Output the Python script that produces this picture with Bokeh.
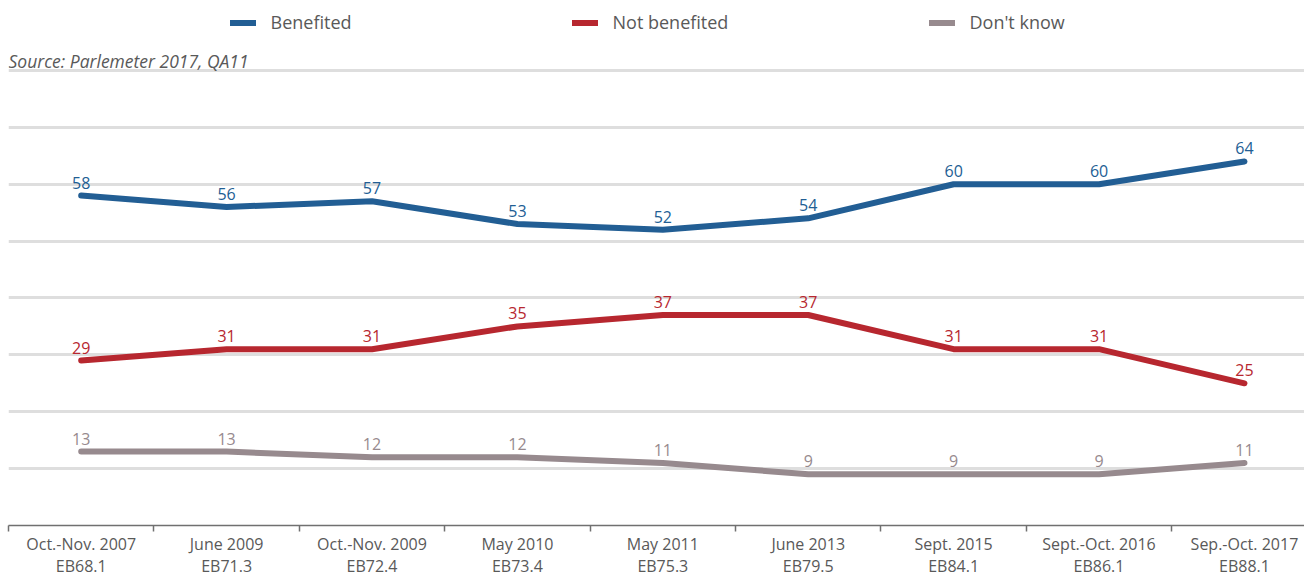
from bokeh.plotting import figure
from bokeh.models import (Range1d, FixedTicker, Grid, Legend, LegendItem, Label, ColumnDataSource)
from bokeh.embed import file_html
from bokeh.resources import INLINE
from bokeh.core.properties import value

# ---- data ----
periods = ["Oct.-Nov. 2007", "June 2009", "Oct.-Nov. 2009", "May 2010", "May 2011",
           "June 2013", "Sept. 2015", "Sept.-Oct. 2016", "Sep.-Oct. 2017"]
waves = ["EB68.1", "EB71.3", "EB72.4", "EB73.4", "EB75.3", "EB79.5", "EB84.1", "EB86.1", "EB88.1"]
benefited = [58, 56, 57, 53, 52, 54, 60, 60, 64]
not_benefited = [29, 31, 31, 35, 37, 37, 31, 31, 25]
dont_know = [13, 13, 12, 12, 11, 9, 9, 9, 11]
series_names = ["Benefited", "Not benefited", "Don't know"]
series_values = [benefited, not_benefited, dont_know]
grid_ticks = [10, 20, 30, 40, 50, 60, 70, 80]
source_text = "Source: Parlemeter 2017, QA11"

colors = ["#225e94", "#b7272f", "#978a8e"]
FONT = "Open Sans"
TXT = "#595959"

xs = list(range(len(periods)))

p = figure(width=1304, height=579, output_backend="svg", toolbar_location=None,
           x_range=Range1d(-0.5, 8.413), y_range=Range1d(0, 92.3),
           y_axis_location=None, min_border_left=8, min_border_right=0,
           min_border_top=0, min_border_bottom=52)
p.outline_line_color = None
p.background_fill_color = "white"
p.border_fill_color = "white"
p.xgrid.visible = False
p.ygrid.visible = False

g = Grid(dimension=1, ticker=FixedTicker(ticks=grid_ticks),
         grid_line_color="#dedede", grid_line_width=3)
p.add_layout(g)

ax = p.xaxis[0]
ax.ticker = FixedTicker(ticks=xs, minor_ticks=[i - 0.5 for i in range(len(periods))])
ax.major_label_overrides = {i: f"{periods[i]}\n{waves[i]}" for i in xs}
ax.major_tick_in = 0
ax.major_tick_out = 0
ax.minor_tick_in = 0
ax.minor_tick_out = 6
ax.minor_tick_line_color = "#707070"
ax.minor_tick_line_width = 1.5
ax.axis_line_color = "#707070"
ax.axis_line_width = 1.5
ax.major_label_standoff = 1
ax.major_label_text_font = FONT
ax.major_label_text_font_size = "16px"
ax.major_label_text_line_height = 1.0
ax.major_label_text_color = TXT

legend_x = [221.5, 563.5, 920.5]
for name, vals, col, lx in zip(series_names, series_values, colors, legend_x):
    src = ColumnDataSource(dict(x=xs, y=vals, t=[str(v) for v in vals]))
    r = p.line("x", "y", source=src, line_color=col, line_width=6,
               line_cap="round", line_join="round")
    p.text("x", "y", text="t", source=src, text_color=col, text_font=value(FONT),
           text_font_size="16px", text_align="center", text_baseline="alphabetic",
           y_offset=-13)
    lg = Legend(items=[LegendItem(label=name, renderers=[r])], location=(lx, 490.5),
                padding=0, margin=0, border_line_color=None, background_fill_alpha=0,
                glyph_width=26, glyph_height=25, label_height=25, label_standoff=15,
                label_text_font=FONT, label_text_font_size="18px", label_text_color=TXT)
    p.add_layout(lg, "center")

src_label = Label(x=0, y=465, x_units="screen", y_units="screen", text=source_text,
                  text_font=FONT, text_font_size="17.5px", text_font_style="italic",
                  text_color=TXT, text_baseline="alphabetic")
p.add_layout(src_label)

open("out.html", "w").write(file_html(p, INLINE))
